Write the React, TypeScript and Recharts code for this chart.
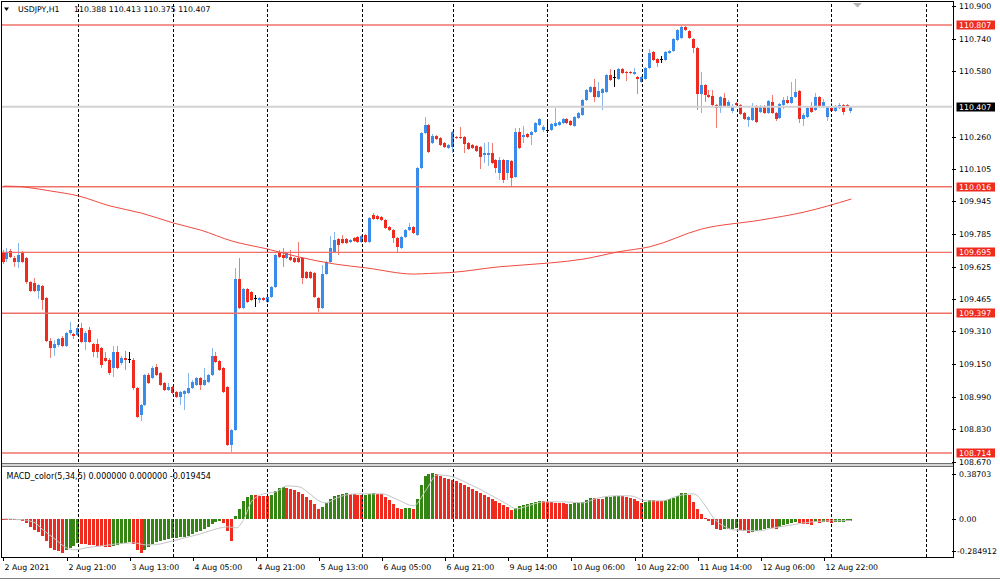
import React from 'react';
import { ComposedChart, Bar, Line, XAxis, YAxis, ReferenceLine } from 'recharts';

const FONT = '"DejaVu Sans", sans-serif';
const FS = 7.8;

// USDJPY H1 candles (bar 0 = 2 Aug 05:00)
const opens = [
  109.691, 109.663, 109.701, 109.667, 109.648, 109.691, 109.667, 109.550, 109.545, 109.506,
  109.531, 109.472, 109.261, 109.227, 109.242, 109.276, 109.237, 109.301, 109.296, 109.291,
  109.325, 109.256, 109.315, 109.247, 109.247, 109.227, 109.178, 109.169, 109.130, 109.208,
  109.154, 109.178, 109.174, 109.169, 109.032, 108.900, 108.949, 109.096, 109.081, 109.135,
  109.105, 109.056, 109.022, 109.037, 109.012, 108.988, 109.003, 109.007, 109.032, 109.047,
  109.081, 109.047, 109.061, 109.096, 109.188, 109.164, 109.130, 109.037, 108.753, 108.826,
  109.565, 109.423, 109.516, 109.501, 109.472, 109.462, 109.472, 109.452, 109.477, 109.526,
  109.696, 109.682, 109.667, 109.672, 109.667, 109.667, 109.667, 109.599, 109.599, 109.594,
  109.472, 109.423, 109.589, 109.648, 109.696, 109.760, 109.760, 109.760, 109.745, 109.765,
  109.770, 109.745, 109.780, 109.745, 109.878, 109.873, 109.868, 109.853, 109.819, 109.804,
  109.765, 109.716, 109.770, 109.804, 109.819, 109.780, 110.107, 110.279, 110.318, 110.230,
  110.264, 110.254, 110.230, 110.205, 110.210, 110.259, 110.259, 110.259, 110.230, 110.220,
  110.215, 110.210, 110.171, 110.171, 110.181, 110.147, 110.083, 110.147, 110.083, 110.142,
  110.064, 110.283, 110.259, 110.274, 110.269, 110.283, 110.318, 110.293, 110.293, 110.293,
  110.313, 110.318, 110.328, 110.347, 110.337, 110.313, 110.352, 110.367, 110.440, 110.479,
  110.503, 110.455, 110.474, 110.479, 110.562, 110.552, 110.543, 110.592, 110.577, 110.577,
  110.567, 110.552, 110.528, 110.543, 110.597, 110.675, 110.641, 110.641, 110.636, 110.670,
  110.680, 110.733, 110.743, 110.797, 110.777, 110.738, 110.694, 110.469, 110.513, 110.464,
  110.460, 110.416, 110.401, 110.450, 110.406, 110.386, 110.425, 110.416, 110.376, 110.342,
  110.342, 110.411, 110.381, 110.411, 110.376, 110.430, 110.376, 110.352, 110.416, 110.440,
  110.425, 110.455, 110.484, 110.347, 110.357, 110.406, 110.391, 110.455, 110.406, 110.357,
  110.401, 110.386, 110.401, 110.416, 110.416, 110.388,
];
const highs = [
  109.706, 109.716, 109.711, 109.677, 109.740, 109.701, 109.672, 109.555, 109.570, 109.540,
  109.535, 109.477, 109.276, 109.266, 109.276, 109.286, 109.305, 109.354, 109.301, 109.340,
  109.350, 109.310, 109.330, 109.252, 109.271, 109.232, 109.208, 109.178, 109.237, 109.237,
  109.188, 109.213, 109.208, 109.178, 109.037, 108.953, 109.100, 109.105, 109.140, 109.149,
  109.110, 109.061, 109.056, 109.042, 109.017, 109.017, 109.022, 109.105, 109.071, 109.086,
  109.086, 109.130, 109.100, 109.227, 109.208, 109.169, 109.135, 109.042, 108.831, 109.619,
  109.667, 109.521, 109.521, 109.506, 109.486, 109.477, 109.477, 109.511, 109.531, 109.687,
  109.706, 109.716, 109.696, 109.706, 109.672, 109.745, 109.672, 109.604, 109.604, 109.599,
  109.477, 109.633, 109.653, 109.775, 109.794, 109.765, 109.780, 109.765, 109.760, 109.770,
  109.775, 109.780, 109.785, 109.868, 109.887, 109.878, 109.873, 109.858, 109.824, 109.809,
  109.770, 109.775, 109.809, 109.838, 109.824, 110.112, 110.283, 110.357, 110.323, 110.274,
  110.269, 110.259, 110.235, 110.225, 110.288, 110.264, 110.308, 110.264, 110.235, 110.225,
  110.220, 110.215, 110.230, 110.235, 110.230, 110.152, 110.161, 110.152, 110.147, 110.147,
  110.303, 110.303, 110.313, 110.279, 110.288, 110.332, 110.352, 110.318, 110.332, 110.328,
  110.401, 110.337, 110.352, 110.352, 110.342, 110.362, 110.381, 110.445, 110.494, 110.508,
  110.543, 110.528, 110.499, 110.567, 110.592, 110.587, 110.597, 110.597, 110.582, 110.582,
  110.597, 110.557, 110.557, 110.601, 110.689, 110.680, 110.645, 110.655, 110.680, 110.684,
  110.743, 110.787, 110.802, 110.802, 110.782, 110.743, 110.699, 110.577, 110.518, 110.489,
  110.489, 110.420, 110.460, 110.474, 110.440, 110.420, 110.430, 110.420, 110.381, 110.362,
  110.425, 110.416, 110.416, 110.416, 110.440, 110.464, 110.381, 110.425, 110.455, 110.460,
  110.528, 110.543, 110.489, 110.376, 110.406, 110.430, 110.474, 110.460, 110.445, 110.411,
  110.425, 110.416, 110.425, 110.420, 110.420, 110.413,
];
const lows = [
  109.638, 109.648, 109.667, 109.624, 109.619, 109.643, 109.540, 109.501, 109.501, 109.467,
  109.413, 109.256, 109.178, 109.188, 109.232, 109.232, 109.232, 109.291, 109.271, 109.286,
  109.252, 109.218, 109.252, 109.183, 109.178, 109.130, 109.159, 109.096, 109.086, 109.125,
  109.144, 109.120, 109.154, 109.022, 108.885, 108.870, 108.944, 109.051, 109.076, 109.091,
  109.042, 109.017, 109.017, 109.003, 108.983, 108.949, 108.924, 109.003, 109.027, 109.042,
  109.022, 109.042, 109.056, 109.091, 109.154, 109.115, 109.007, 108.748, 108.719, 108.821,
  109.418, 109.418, 109.447, 109.457, 109.428, 109.447, 109.457, 109.447, 109.472, 109.521,
  109.667, 109.624, 109.663, 109.653, 109.643, 109.643, 109.540, 109.565, 109.565, 109.472,
  109.403, 109.418, 109.584, 109.643, 109.691, 109.682, 109.735, 109.735, 109.740, 109.745,
  109.740, 109.740, 109.740, 109.740, 109.853, 109.853, 109.848, 109.809, 109.799, 109.740,
  109.696, 109.711, 109.765, 109.799, 109.785, 109.775, 110.103, 110.274, 110.181, 110.225,
  110.244, 110.215, 110.205, 110.200, 110.181, 110.249, 110.249, 110.181, 110.196, 110.200,
  110.186, 110.103, 110.132, 110.117, 110.127, 110.083, 110.049, 110.034, 110.049, 110.014,
  110.059, 110.200, 110.230, 110.254, 110.220, 110.279, 110.313, 110.283, 110.279, 110.288,
  110.308, 110.313, 110.323, 110.323, 110.313, 110.308, 110.347, 110.362, 110.435, 110.474,
  110.430, 110.450, 110.391, 110.474, 110.533, 110.504, 110.538, 110.567, 110.533, 110.567,
  110.562, 110.469, 110.523, 110.538, 110.592, 110.631, 110.601, 110.621, 110.631, 110.665,
  110.675, 110.729, 110.738, 110.777, 110.738, 110.670, 110.391, 110.376, 110.430, 110.450,
  110.411, 110.303, 110.376, 110.406, 110.401, 110.376, 110.411, 110.367, 110.342, 110.308,
  110.337, 110.328, 110.376, 110.371, 110.371, 110.371, 110.337, 110.347, 110.396, 110.420,
  110.420, 110.450, 110.328, 110.313, 110.352, 110.376, 110.386, 110.401, 110.401, 110.337,
  110.381, 110.381, 110.396, 110.367, 110.401, 110.375,
];
const closes = [
  109.648, 109.691, 109.672, 109.648, 109.682, 109.648, 109.550, 109.506, 109.506, 109.535,
  109.462, 109.261, 109.227, 109.247, 109.271, 109.237, 109.301, 109.315, 109.286, 109.325,
  109.256, 109.301, 109.256, 109.208, 109.208, 109.144, 109.164, 109.105, 109.208, 109.130,
  109.178, 109.169, 109.174, 109.032, 108.890, 108.949, 109.096, 109.056, 109.130, 109.096,
  109.047, 109.022, 109.037, 109.007, 108.988, 109.012, 109.017, 109.032, 109.061, 109.081,
  109.047, 109.071, 109.096, 109.188, 109.159, 109.120, 109.012, 108.753, 108.826, 109.565,
  109.423, 109.516, 109.452, 109.462, 109.472, 109.472, 109.462, 109.477, 109.526, 109.682,
  109.672, 109.667, 109.691, 109.658, 109.648, 109.648, 109.570, 109.570, 109.570, 109.477,
  109.423, 109.589, 109.648, 109.716, 109.755, 109.731, 109.740, 109.740, 109.755, 109.750,
  109.745, 109.775, 109.745, 109.863, 109.858, 109.858, 109.853, 109.814, 109.804, 109.765,
  109.721, 109.770, 109.804, 109.819, 109.789, 110.107, 110.279, 110.318, 110.186, 110.264,
  110.249, 110.220, 110.210, 110.220, 110.283, 110.254, 110.254, 110.225, 110.200, 110.205,
  110.191, 110.161, 110.181, 110.181, 110.132, 110.107, 110.147, 110.049, 110.147, 110.059,
  110.283, 110.205, 110.269, 110.259, 110.283, 110.328, 110.347, 110.308, 110.293, 110.323,
  110.328, 110.332, 110.347, 110.328, 110.318, 110.357, 110.376, 110.440, 110.489, 110.503,
  110.455, 110.484, 110.494, 110.562, 110.538, 110.552, 110.592, 110.572, 110.572, 110.572,
  110.577, 110.543, 110.552, 110.597, 110.670, 110.636, 110.621, 110.641, 110.675, 110.680,
  110.738, 110.782, 110.797, 110.782, 110.743, 110.694, 110.469, 110.513, 110.464, 110.455,
  110.416, 110.401, 110.455, 110.411, 110.430, 110.411, 110.416, 110.371, 110.347, 110.357,
  110.401, 110.332, 110.411, 110.376, 110.435, 110.376, 110.347, 110.420, 110.440, 110.425,
  110.455, 110.479, 110.347, 110.367, 110.401, 110.381, 110.455, 110.406, 110.430, 110.406,
  110.386, 110.411, 110.416, 110.381, 110.406, 110.407,
];

// red moving average, [bar, price]
const maPoints: [number, number][] = [
  [0, 110.019], [4, 110.017], [7, 110.01], [12, 109.995], [19, 109.971], [27, 109.922],
  [35, 109.887], [43, 109.839], [50, 109.804], [58, 109.75], [67, 109.711], [75, 109.672],
  [84, 109.638], [92, 109.619], [104, 109.589], [108, 109.592], [113, 109.596], [126, 109.625],
  [139, 109.644], [147, 109.662], [156, 109.698], [164, 109.723], [177, 109.809], [192, 109.853],
  [203, 109.892], [215, 109.956],
];

// MACD_color(5,34,5) histogram
const macd = [
  0.0015, 0, -0.0022, -0.0037, -0.006, -0.0149, -0.0298, -0.0597, -0.0821, -0.097,
  -0.1268, -0.1641, -0.2163, -0.2313, -0.2387, -0.2536, -0.2313, -0.2163, -0.2014, -0.179,
  -0.1865, -0.1902, -0.194, -0.1977, -0.2014, -0.2052, -0.2089, -0.2126, -0.2014, -0.194,
  -0.1865, -0.179, -0.1716, -0.1865, -0.2313, -0.2536, -0.2313, -0.2089, -0.1865, -0.1716,
  -0.1641, -0.1567, -0.1492, -0.1455, -0.1417, -0.138, -0.1343, -0.1268, -0.1119, -0.097,
  -0.0895, -0.0746, -0.0597, -0.0373, -0.0224, -0.0149, -0.0298, -0.0895, -0.1641, 0.0224,
  0.0746, 0.1343, 0.1641, 0.179, 0.1753, 0.1716, 0.1701, 0.1679, 0.179, 0.2089,
  0.2313, 0.2387, 0.2313, 0.2238, 0.2163, 0.2014, 0.1865, 0.1641, 0.1417, 0.1119,
  0.0746, 0.0895, 0.1194, 0.1492, 0.1716, 0.179, 0.1865, 0.1902, 0.1865, 0.1828,
  0.179, 0.1753, 0.179, 0.1865, 0.1902, 0.1865, 0.1828, 0.1641, 0.1417, 0.1119,
  0.0821, 0.0746, 0.0783, 0.0821, 0.0746, 0.1492, 0.2536, 0.3208, 0.3357, 0.3432,
  0.3357, 0.3208, 0.3059, 0.2984, 0.2909, 0.2835, 0.2686, 0.2536, 0.2387, 0.2238,
  0.2089, 0.194, 0.179, 0.1641, 0.1492, 0.1343, 0.1194, 0.1044, 0.0895, 0.0671,
  0.0821, 0.097, 0.1044, 0.1119, 0.1194, 0.1268, 0.1343, 0.1306, 0.1268, 0.1231,
  0.1209, 0.1194, 0.1156, 0.1119, 0.1134, 0.1149, 0.1171, 0.1268, 0.1417, 0.1567,
  0.1529, 0.1507, 0.1492, 0.1604, 0.1641, 0.1679, 0.1716, 0.1679, 0.1641, 0.1567,
  0.1492, 0.1343, 0.1194, 0.1268, 0.1417, 0.138, 0.1343, 0.1306, 0.1417, 0.1455,
  0.1567, 0.1716, 0.1902, 0.194, 0.179, 0.1268, 0.0746, 0.0373, 0.0075, -0.0149,
  -0.0448, -0.0746, -0.0821, -0.0783, -0.0746, -0.0731, -0.0709, -0.0821, -0.0933, -0.1044,
  -0.097, -0.0895, -0.0821, -0.0746, -0.0671, -0.0709, -0.0746, -0.0597, -0.0485, -0.0373,
  -0.0298, -0.0224, -0.0298, -0.0373, -0.041, -0.0448, -0.0261, -0.0298, -0.0224, -0.0261,
  -0.0298, -0.0224, -0.0209, -0.0201, -0.0198, -0.019454,
];

// gray signal line, [bar, value]
const signalPoints: [number, number][] = [
  [0, 0], [5, -0.0075], [8, -0.0298], [10, -0.0821], [13, -0.1492], [16, -0.2163], [18, -0.2313],
  [21, -0.2163], [25, -0.2014], [29, -0.1865], [33, -0.179], [36, -0.194], [38, -0.194],
  [42, -0.1716], [46, -0.1417], [50, -0.1119], [54, -0.0746], [57, -0.0597], [59, -0.0671],
  [61, 0], [63, 0.1343], [66, 0.1865], [69, 0.2014], [72, 0.2462], [75, 0.2387], [78, 0.179],
  [80, 0.1343], [82, 0.1194], [84, 0.1492], [87, 0.179], [90, 0.1865], [96, 0.1865],
  [100, 0.1417], [104, 0.097], [107, 0.2089], [110, 0.3282], [113, 0.3208], [118, 0.2611],
  [123, 0.1865], [128, 0.1044], [130, 0.0746], [133, 0.097], [137, 0.1268], [142, 0.1268],
  [147, 0.1194], [150, 0.1492], [155, 0.1716], [159, 0.1716], [163, 0.1343], [167, 0.1343],
  [171, 0.1716], [175, 0.1865], [178, 0.097], [180, 0.0075], [183, -0.0597], [185, -0.0821],
  [192, -0.0895], [194, -0.0746], [200, -0.0448], [205, -0.0224], [210, -0.0149], [215, -0.0127],
];

const priceTicks = [110.9, 110.74, 110.58, 110.26, 110.105, 109.945, 109.785, 109.625, 109.465, 109.31, 109.15, 108.99, 108.83, 108.67];
const levels = [110.807, 110.016, 109.695, 109.397, 108.714];
const lastPrice = 110.407;
const macdTicks = [0.38703, 0, -0.284912];
const timeBars = [0, 16, 32, 48, 64, 80, 96, 112, 128, 144, 160, 176, 192, 208];
const timeLabels = ['2 Aug 2021', '2 Aug 21:00', '3 Aug 13:00', '4 Aug 05:00', '4 Aug 21:00', '5 Aug 13:00', '6 Aug 05:00', '6 Aug 21:00', '9 Aug 14:00', '10 Aug 06:00', '10 Aug 22:00', '11 Aug 14:00', '12 Aug 06:00', '12 Aug 22:00'];
const dayLines = [19, 43, 67, 91, 114, 138, 162, 186, 210, 234];
const SLOTS = 241;

const maMap = new Map(maPoints);
const sigMap = new Map(signalPoints);

const data = Array.from({ length: SLOTS }, (_, i) => {
  const has = i < closes.length;
  return {
    i,
    o: has ? opens[i] : undefined,
    h: has ? highs[i] : undefined,
    l: has ? lows[i] : undefined,
    c: has ? closes[i] : undefined,
    range: has ? [lows[i], highs[i]] : undefined,
    ma: maMap.has(i) ? maMap.get(i) : null,
    hist: i < macd.length ? macd[i] : undefined,
    up: i > 0 && i < macd.length && macd[i] > macd[i - 1],
    sig: sigMap.has(i) ? sigMap.get(i) : null,
  };
});

const BULL = '#3a8cea';
const BEAR = '#ef2a1e';
const GREEN = '#358515';

const Candle = (props: any) => {
  const { x, y, width, height, payload } = props;
  if (payload == null || payload.o == null) return <g />;
  const { o, h, l, c } = payload;
  const top = Math.min(y, y + height);
  const span = Math.abs(height);
  const toY = (p: number) => (h === l ? top : top + ((h - p) / (h - l)) * span);
  const left = Math.round(x + width / 2 - 1.5);
  const body = o === c ? '#000' : c > o ? BULL : BEAR;
  const wick = o === c ? '#000' : c > o ? '#86b6f0' : '#f27a70';
  const wt = Math.round(toY(h));
  const wb = Math.round(toY(l));
  const bt = Math.round(toY(Math.max(o, c)));
  const bb = Math.round(toY(Math.min(o, c)));
  return (
    <g shapeRendering="crispEdges">
      <rect x={left + 1} y={wt} width={1} height={Math.max(1, wb - wt)} fill={wick} />
      <rect x={left} y={bt} width={3} height={Math.max(1, bb - bt)} fill={body} />
    </g>
  );
};

const HistBar = (props: any) => {
  const { x, y, width, height, payload } = props;
  if (payload == null || payload.hist == null) return <g />;
  const top = Math.round(Math.min(y, y + height));
  const bottom = Math.round(Math.max(y, y + height));
  const left = Math.round(x + width / 2 - 1.5);
  return <rect shapeRendering="crispEdges" x={left} y={top} width={3} height={Math.max(1, bottom - top)} fill={payload.up ? GREEN : BEAR} />;
};

const PriceTick = (props: any) => {
  const { x, y, payload } = props;
  const v = payload.value as number;
  const label = v.toFixed(3);
  const yy = Math.round(y);
  if (levels.includes(v) || v === lastPrice) {
    return (
      <g>
        <rect x={x - 1.5} y={yy - 4.5} width={38.5} height={9} fill={v === lastPrice ? '#000' : BEAR} />
        <text x={x + 1} y={yy} dy={2.9} fontSize={FS} fontFamily={FONT} fill="#fff">{label}</text>
      </g>
    );
  }
  return (
    <g>
      <line x1={x - 6} x2={x - 2} y1={yy + 0.5} y2={yy + 0.5} stroke="#000" />
      <text x={x + 1} y={yy} dy={2.9} fontSize={FS} fontFamily={FONT} fill="#000">{label}</text>
    </g>
  );
};

const MacdTick = (props: any) => {
  const { x, y, payload } = props;
  const v = payload.value as number;
  const label = v === 0 ? '0.00' : String(v);
  const off = v > 0 ? 7 : v < 0 ? -6.3 : 0.5;
  const yy = Math.round(y + off);
  return (
    <g>
      <line x1={x - 6} x2={x - 2} y1={yy + 0.5} y2={yy + 0.5} stroke="#000" />
      <text x={x + (v < 0 ? -1 : 1)} y={yy} dy={2.9} fontSize={FS} fontFamily={FONT} fill="#000">{label}</text>
    </g>
  );
};

const TimeTick = (props: any) => {
  const { x, y, payload } = props;
  const k = timeBars.indexOf(payload.value);
  const xx = Math.round(x) + 0.5;
  return (
    <g>
      <line x1={xx} x2={xx} y1={y - 4} y2={y} stroke="#000" />
      <text x={xx + 1} y={y + 9} fontSize={FS} fontFamily={FONT} fill="#000">{k >= 0 ? timeLabels[k] : ''}</text>
    </g>
  );
};

export default function App() {
  return (
    <div style={{ position: 'absolute', left: 0, top: 0, width: 1000, height: 581, background: '#fff', overflow: 'hidden' }}>
      <div style={{ position: 'absolute', left: 0, top: 0 }}>
        <ComposedChart width={1000} height={470} data={data} margin={{ top: 3, right: 0, bottom: 8, left: 1.5 }}>
          <XAxis dataKey="i" hide />
          <YAxis
            orientation="right"
            width={48}
            type="number"
            domain={[108.67, 110.9143]}
            allowDataOverflow
            ticks={[...priceTicks, ...levels, lastPrice]}
            interval={0}
            tickSize={4}
            tickMargin={2}
            tickLine={false}
            axisLine={false}
            tick={<PriceTick />}
          />
          {dayLines.map((b) => (
            <ReferenceLine key={'d' + b} x={b} stroke="#000" strokeDasharray="3 2" shapeRendering="crispEdges" />
          ))}
          {levels.map((v) => (
            <ReferenceLine key={'l' + v} y={v} stroke="#f07068" strokeWidth={1.4} />
          ))}
          <ReferenceLine y={lastPrice} stroke="#d2d2d2" strokeWidth={2} />
          <Line dataKey="ma" type="monotone" stroke="#ef4a40" strokeWidth={1} dot={false} connectNulls isAnimationActive={false} />
          <Bar dataKey="range" barSize={3} shape={<Candle />} isAnimationActive={false} />
        </ComposedChart>
      </div>
      <div style={{ position: 'absolute', left: 0, top: 0 }}>
        <ComposedChart width={1000} height={581} data={data} margin={{ top: 467, right: 0, bottom: 0, left: 1.5 }}>
          <XAxis
            dataKey="i"
            height={24}
            ticks={timeBars}
            interval={0}
            tickSize={4}
            tickMargin={0}
            tickLine={false}
            axisLine={false}
            tick={<TimeTick />}
          />
          <YAxis
            orientation="right"
            width={48}
            type="number"
            domain={[-0.284912, 0.38703]}
            allowDataOverflow
            ticks={macdTicks}
            interval={0}
            tickSize={4}
            tickMargin={2}
            tickLine={false}
            axisLine={false}
            tick={<MacdTick />}
          />
          {dayLines.map((b) => (
            <ReferenceLine key={'m' + b} x={b} stroke="#000" strokeDasharray="3 2" shapeRendering="crispEdges" />
          ))}
          <Bar dataKey="hist" barSize={3} shape={<HistBar />} isAnimationActive={false} />
          <Line dataKey="sig" type="monotone" stroke="#c4c4c4" strokeWidth={1} dot={false} connectNulls isAnimationActive={false} />
        </ComposedChart>
      </div>
      <svg width={1000} height={581} style={{ position: 'absolute', left: 0, top: 0, pointerEvents: 'none' }}>
        <rect x={1} y={463} width={953} height={4} fill="#d6d6d6" />
        <line x1={1} x2={953.5} y1={463.5} y2={463.5} stroke="#707070" />
        <line x1={1} x2={953.5} y1={466.5} y2={466.5} stroke="#707070" />
        <line x1={1} x2={953.5} y1={1.5} y2={1.5} stroke="#000" />
        <line x1={1.5} x2={1.5} y1={1} y2={558} stroke="#000" />
        <line x1={953.5} x2={953.5} y1={1} y2={558} stroke="#000" />
        <line x1={1} x2={954} y1={557.5} y2={557.5} stroke="#000" />
        <line x1={0} x2={1000} y1={578.5} y2={578.5} stroke="#808080" />
        <polygon points="4,7.5 9,7.5 6.5,11" fill="#000" />
        <polygon points="853,3 862,3 857.5,7.5" fill="#b4b4b4" />
        <text x={18} y={12} fontSize={FS} fontFamily={FONT} fill="#000">USDJPY,H1</text>
        <text x={74} y={12} fontSize={FS} fontFamily={FONT} fill="#000">110.388 110.413 110.375 110.407</text>
        <text x={6.5} y={479} fontSize={8} fontFamily={FONT} fill="#000">MACD_color(5,34,5) 0.000000 0.000000 -0.019454</text>
      </svg>
    </div>
  );
}
